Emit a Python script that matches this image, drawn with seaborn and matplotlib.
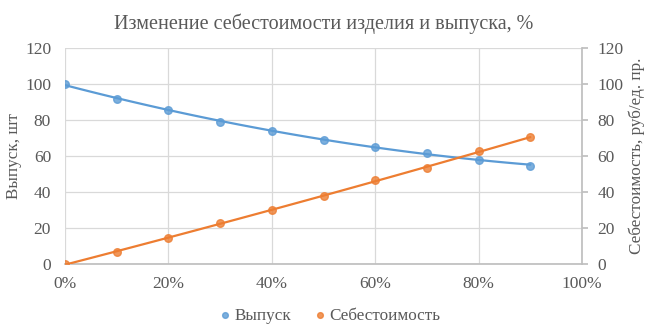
import numpy as np
import pandas as pd
import matplotlib
matplotlib.use("Agg")
import matplotlib.pyplot as plt
import matplotlib.ticker as mtick
import seaborn as sns

# данные
share = [0.0, 0.1, 0.2, 0.3, 0.4, 0.5, 0.6, 0.7, 0.8, 0.9]
output = [100, 91.6, 85.6, 79, 74, 69, 65.2, 61.6, 58, 54.6]
cost = [0, 6.6, 14.2, 23, 30, 38, 46.5, 53.1, 62.7, 70.4]

df = pd.DataFrame({"share": share, "output": output, "cost": cost})

sns.set_theme(style="white")
plt.rcParams['font.family'] = ['Liberation Serif', 'DejaVu Serif']
grey = "#595959"
blue = "#5B9BD5"
orange = "#ED7D31"

fig = plt.figure(figsize=(6.58, 3.34), dpi=100)
ax = fig.add_axes([0.0988, 0.2096, 0.7857, 0.6467])
ax2 = ax.twinx()

sns.regplot(data=df, x="share", y="output", order=2, ci=None, ax=ax,
            color=blue, label="Выпуск",
            scatter_kws={"s": 30, "zorder": 3},
            line_kws={"lw": 1.6})
sns.regplot(data=df, x="share", y="cost", order=2, ci=None, ax=ax2,
            color=orange, label="Себестоимость",
            scatter_kws={"s": 30, "zorder": 3},
            line_kws={"lw": 1.6})

for a in (ax, ax2):
    a.set_ylim(0, 120)
    a.set_yticks(range(0, 121, 20))
    a.set_xlim(0, 1)
    for s in a.spines.values():
        s.set_visible(False)
    a.tick_params(colors=grey, labelsize=12.5, length=0)

ax.xaxis.set_major_locator(mtick.MultipleLocator(0.2))
ax.xaxis.set_major_formatter(mtick.PercentFormatter(1.0, decimals=0))
ax.grid(True, color="#D9D9D9", lw=0.9)
ax.set_axisbelow(True)
ax.spines["bottom"].set_visible(True)
ax.spines["bottom"].set_color("#BFBFBF")
ax2.spines["right"].set_visible(True)
ax2.spines["right"].set_color("#BFBFBF")
ax2.tick_params(axis="y", length=4, color="#BFBFBF", pad=7)
ax.tick_params(axis="x", pad=9)
ax.tick_params(axis="y", pad=10)

ax.set_xlabel("")
ax.set_ylabel("Выпуск, шт", color=grey, fontsize=12.3, labelpad=2)
ax2.set_ylabel("Себестоимость, руб/ед. пр.", color=grey, fontsize=12.3, labelpad=4)
ax.set_title("Изменение себестоимости изделия и выпуска, %", color=grey,
             fontsize=14.5, pad=14)

h1, l1 = ax.get_legend_handles_labels()
h2, l2 = ax2.get_legend_handles_labels()
fig.legend(h1 + h2, l1 + l2, loc="lower center", ncol=2, frameon=False,
           bbox_to_anchor=(0.5, -0.015), fontsize=12.3, labelcolor=grey,
           handlelength=0.9, handletextpad=0.1, columnspacing=1.2,
           markerscale=0.75)

fig.savefig("out.png", dpi=100)
